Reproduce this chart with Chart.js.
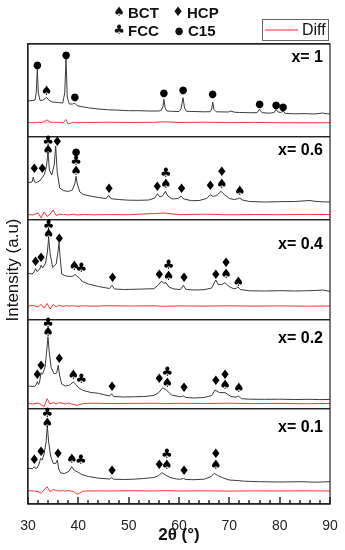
<!DOCTYPE html>
<html>
<head>
<meta charset="utf-8">
<title>XRD patterns</title>
<script src="https://cdn.jsdelivr.net/npm/chart.js@4.4.0/dist/chart.umd.min.js"></script>
<style>
  html, body { margin: 0; padding: 0; background: #fff; }
</style>
</head>
<body>
<canvas id="xrdChart" width="345" height="550"></canvas>
<script>
'use strict';

// ---- data (2theta in degrees, intensity in a.u. per panel) ----
let panelNames = ['x= 1', 'x= 0.6', 'x= 0.4', 'x= 0.2', 'x= 0.1'];
let panelMax = [93, 83, 100, 89, 95];      // intensity window of each panel
let labelLevel = [79, 69, 75, 70, 76];     // height of the "x= .." label in each panel
let xTicks = [30, 40, 50, 60, 70, 80, 90];
let minorStep = 2;

let phaseNames = ['BCT', 'HCP', 'FCC', 'C15'];
let phaseSyms = ['\u2660', '\u2666', '\u2663', '\u25CF'];

// x = 1
let theta1 = [30, 30.8, 31.4, 31.65, 31.85, 32.05, 32.4, 33.0, 33.4, 33.7,
  34.1, 34.8, 36.0, 36.9, 37.3, 37.55, 37.8, 38.2, 38.8, 39.3,
  39.7, 40.5, 42, 44, 46, 48, 50, 52, 54, 56,
  56.5, 56.8, 57.0, 57.25, 57.6, 58.5, 60.0, 60.4, 60.8, 61.1,
  61.5, 63, 65, 66.2, 66.5, 66.7, 66.95, 67.4, 69.8, 70.3,
  71, 72, 74, 75.5, 76.0, 76.5, 78, 78.9, 79.3, 79.7,
  80.2, 80.7, 81.2, 83, 85, 87, 88.5, 89, 90];
let counts1 = [36, 36.5, 37, 45, 67.7, 44, 36.5, 37, 38.5, 39.7,
  37, 35, 34.5, 34, 44, 78, 40, 33, 33, 33.7,
  31.5, 30.5, 29.2, 28, 27.2, 26.8, 26.3, 26.3, 26, 26,
  26.8, 30, 37.7, 29, 26, 25.7, 25.5, 28, 39.3, 29,
  25.7, 25.5, 25.2, 25.3, 28, 35, 27.5, 25.2, 25, 26,
  24.8, 24.5, 24.3, 24.3, 27.7, 24.3, 23.8, 24.5, 27.7, 25,
  24.5, 25.7, 23.5, 23.2, 23.4, 23, 24, 23.5, 23];

// x = 0.6
let theta2 = [30, 30.8, 31.05, 31.3, 31.7, 32.3, 32.9, 33.3, 33.7, 33.97,
  34.25, 34.7, 35.2, 35.5, 35.8, 36.3, 37, 38, 38.8, 39.3,
  39.54, 39.8, 40.3, 41, 42.5, 44, 45.5, 46.0, 46.5, 48,
  50, 52, 54, 55.2, 55.7, 56.2, 56.8, 57.3, 57.8, 58.7,
  59.8, 60.4, 61, 62.5, 64, 65.5, 66.2, 66.8, 67.6, 68.35,
  69, 70, 71, 71.6, 72.06, 72.6, 74, 77, 80, 83,
  85, 86, 87, 88.5, 90];
let counts2 = [37.3, 38, 43, 38, 37.5, 39, 43, 46, 55, 68,
  50, 45, 55, 74, 48, 32, 29.5, 28.5, 30, 36,
  43.7, 36, 28, 25.5, 23.8, 22.5, 21.5, 24.7, 21.3, 20.5,
  19.8, 19.7, 20, 22, 26.3, 23, 24.5, 28.7, 24, 21,
  21.5, 23.7, 21, 19.3, 19.5, 21.5, 25.3, 23.5, 25, 28.7,
  25.5, 21.5, 20.5, 21.2, 22, 20, 18.5, 18, 18.3, 18.5,
  19.2, 19.5, 18.7, 18.2, 18];

// x = 0.4
let theta3 = [30, 30.8, 31.2, 31.5, 31.8, 32.3, 32.6, 32.9, 33.5, 33.85,
  34.1, 34.4, 34.9, 35.6, 35.95, 36.16, 36.4, 36.7, 37.5, 38.5,
  39.0, 39.3, 39.7, 40.1, 40.8, 42, 44, 46.2, 46.7, 47.2,
  49, 51, 53, 55, 55.9, 56.56, 57.0, 57.4, 58, 59,
  60.3, 60.87, 61.4, 63, 65, 66.5, 67.3, 67.8, 68.5, 69.15,
  69.8, 70.8, 71.3, 71.7, 72.2, 74, 77, 80, 83, 85,
  87, 88.5, 89.2, 90];
let counts3 = [46.7, 46, 48, 51.3, 48.5, 50.5, 54.7, 52, 57, 68,
  82.3, 66, 52.5, 56, 68, 77.3, 62, 46, 44, 43.5,
  44, 45.7, 44, 42.5, 38.5, 36, 33.5, 31.5, 34.7, 31,
  30.5, 30.7, 31, 31.3, 35, 39, 36.5, 37.5, 33, 31,
  30.5, 34.7, 30.5, 30, 30.3, 32, 40, 35.5, 35.5, 37.3,
  34, 31.3, 31.5, 33, 30.5, 29.2, 29, 29.3, 29, 29.2,
  29.5, 30, 29.3, 28.7];

// x = 0.2
let theta4 = [30, 31.2, 31.6, 31.85, 32.1, 32.3, 32.6, 32.9, 33.4, 33.75,
  33.97, 34.2, 34.6, 35.2, 35.7, 36.0, 36.3, 36.7, 37.4, 38.3,
  39.0, 39.6, 40.1, 41, 42.5, 44, 46.2, 46.6, 47.0, 49,
  51, 53, 55, 56.0, 56.76, 57.6, 58.5, 60.3, 60.87, 61.4,
  63, 65, 66.5, 67.15, 68, 69.2, 70.3, 71.3, 71.8, 72.4,
  74, 77, 80, 83, 86, 88, 90];
let counts4 = [23, 22.5, 24, 27.3, 24.5, 27, 36.3, 35, 42, 60,
  72.3, 58, 41.5, 35, 36, 43.7, 33, 25, 23, 24,
  27, 24, 21, 18.5, 16.5, 15.7, 13, 15.3, 12.5, 12,
  12.2, 12.5, 13.5, 16.5, 21.3, 18.5, 14, 12.2, 13, 11.5,
  11, 11.5, 13.5, 19, 16.5, 16.3, 12.5, 11.8, 13, 10.3,
  9.8, 9.7, 9.8, 9.5, 9.7, 9.4, 9.6];

// x = 0.1
let theta5 = [30, 30.9, 31.26, 31.5, 31.8, 32.2, 32.5, 32.8, 33.2, 33.6,
  33.84, 34.1, 34.5, 35.0, 35.5, 35.83, 36.1, 36.5, 37.3, 38.2,
  38.68, 39.2, 39.8, 40.6, 42, 44, 46.2, 46.6, 47.0, 49,
  51, 53, 55, 56.0, 56.56, 57.2, 58.2, 59.5, 60.3, 60.87,
  61.4, 63, 65, 66.4, 67.0, 67.7, 68.8, 70, 71.5, 73,
  76, 80, 84, 87, 90];
let counts5 = [35.7, 35.3, 37.3, 35.7, 36, 40, 45.7, 44, 50, 62,
  78.3, 62, 48, 40.7, 40.5, 44, 35, 31, 30.5, 33,
  37.3, 33.5, 32.3, 29.7, 27.5, 25.8, 25, 26.3, 24.8, 24.5,
  24.8, 25.5, 26.5, 28.5, 31.3, 29.5, 26.5, 25, 24.8, 25.5,
  24.5, 24.3, 24.8, 27.5, 30.7, 28.5, 26, 24, 23.5, 22.8,
  22.3, 22, 22.3, 21.8, 22.3];

// difference curves (red), same 2theta grid for all panels
let diffTheta = [30, 31, 32, 32.6, 33.2, 33.8, 34.4, 35, 35.6, 36.2,
  37, 37.5, 38, 39, 39.8, 41, 43, 46, 50, 55,
  57, 60, 65, 70, 75, 80, 85, 90];
let diff1 = [14.5, 14.2, 14.8, 14.3, 15.5, 17, 15, 14.5, 14.8, 14.5,
  14.2, 17.5, 13, 14.8, 14.2, 14.6, 14.5, 14.8, 14.5, 14.7,
  15.2, 14.5, 14.8, 14.4, 14.6, 14.3, 14.2, 14.3];
let diff2 = [5.5, 5, 7, 2, 8, 3.5, 6, 10, 4.5, 6,
  5.3, 5.5, 5, 5.8, 5, 5.5, 5.2, 5.4, 5.3, 6.5,
  7, 5.3, 5.8, 5.2, 5.5, 5.3, 5.6, 5.4];
let diff3 = [14, 14.5, 13, 15.5, 12, 16.5, 11, 15.5, 13, 14.8,
  13.5, 14.5, 13.8, 14.3, 13.6, 14.2, 13.8, 14.3, 14, 14.2,
  13.7, 14.1, 13.9, 14.2, 13.9, 14.1, 13.8, 14];
let diff4 = [5.5, 5, 6, 4.5, 2.5, 10.3, 5, 6.5, 5, 6.5,
  5.5, 5, 6, 4.5, 3.7, 5.5, 5.8, 5.5, 5.6, 5.8,
  5.4, 5.7, 5.5, 5.8, 5.4, 5.6, 5.3, 5.5];
let diff5 = [13.2, 13, 12.5, 10.7, 14, 17.3, 12, 14.5, 13.5, 13,
  13.3, 12.8, 13.5, 12.6, 9.7, 12.8, 13.2, 13, 13.3, 13,
  13.4, 13, 13.2, 12.9, 13.1, 13, 13.2, 13];

// phase markers: position (2theta), height in the panel, symbol
let S = '\u2660', C = '\u2663', D = '\u2666', O = '\u25CF';
let mark1Theta = [31.85, 33.7, 37.55, 39.3, 57.0, 60.8, 66.7, 76.0, 79.3, 80.7];
let mark1Level = [72, 45.3, 81.3, 39.3, 43.7, 46.3, 42.3, 33, 32, 29.3];
let mark1Sym = [O, S, O, O, O, O, O, O, O, O];

let mark2Theta = [31.26, 32.85, 33.97, 33.97, 35.83, 39.54, 39.54, 39.54, 46.1, 55.7, 57.4, 57.4, 60.5, 66.2, 68.5, 68.5, 72.1];
let mark2Level = [50.3, 50.3, 69, 78, 77.3, 48, 58.7, 67.3, 30.7, 32.3, 35.7, 46.7, 30, 33, 35.7, 47.3, 28];
let mark2Sym = [D, D, S, C, D, S, C, O, D, D, S, C, D, D, S, D, S];

let mark3Theta = [31.5, 32.6, 34.1, 34.1, 36.2, 39.2, 40.6, 46.8, 56.1, 57.95, 57.95, 61.0, 67.3, 69.35, 69.35, 71.8];
let mark3Level = [57.3, 61.3, 85, 94.7, 80.7, 53.3, 51.3, 41.3, 44, 43, 54, 41.3, 44, 45.3, 56.7, 37.3];
let mark3Sym = [D, D, S, C, D, S, C, D, D, S, C, D, D, S, D, S];

let mark4Theta = [31.85, 32.6, 34.0, 34.0, 36.2, 39.0, 40.6, 46.7, 56.1, 57.7, 57.7, 61.0, 67.3, 69.15, 69.15, 71.9];
let mark4Level = [33, 42.3, 76.3, 85.7, 49, 33, 29.7, 21.3, 29, 25.3, 36.3, 20.3, 27, 23, 33.7, 20.3];
let mark4Sym = [D, D, S, C, D, S, C, D, D, S, C, D, D, S, D, S];

let mark5Theta = [31.26, 32.6, 33.84, 33.84, 36.0, 38.7, 40.5, 46.7, 56.1, 57.6, 57.6, 61.0, 67.3, 67.3];
let mark5Level = [43.3, 51.7, 80.7, 90.7, 49, 44, 43, 32.3, 38, 38, 49, 32.3, 38, 49.7];
let mark5Sym = [D, D, S, C, D, S, C, D, D, S, C, D, S, D];

// ---- build datasets ----
let thetaSets = [theta1, theta2, theta3, theta4, theta5];
let countSets = [counts1, counts2, counts3, counts4, counts5];
let diffSets = [diff1, diff2, diff3, diff4, diff5];
let markTheta = [mark1Theta, mark2Theta, mark3Theta, mark4Theta, mark5Theta];
let markLevel = [mark1Level, mark2Level, mark3Level, mark4Level, mark5Level];
let markSym = [mark1Sym, mark2Sym, mark3Sym, mark4Sym, mark5Sym];

let datasets = [];
for (let i = 0; i < thetaSets.length; i++) {
  datasets.push({
    label: panelNames[i],
    data: thetaSets[i].map((t, j) => ({ x: t, y: countSets[i][j] })),
    yAxisID: 'p' + (i + 1),
    borderColor: '#3a3a3a',
    borderWidth: 1,
    pointRadius: 0,
    tension: 0
  });
  datasets.push({
    label: 'Diff',
    data: diffTheta.map((t, j) => ({ x: t, y: diffSets[i][j] })),
    yAxisID: 'p' + (i + 1),
    borderColor: '#ff1c1c',
    borderWidth: 0.9,
    pointRadius: 0,
    tension: 0
  });
}

// one y axis per panel, stacked on top of each other
function panelAxis(i, withTitle) {
  return {
    type: 'linear',
    position: 'left',
    stack: 'xrd',
    stackWeight: panelMax[i],
    min: 0,
    max: panelMax[i],
    afterBuildTicks: s => { s.ticks = [{ value: s.min }, { value: s.max }]; },
    afterFit: s => { s.width = 28; },
    ticks: { display: false },
    grid: { color: '#222', lineWidth: 1.2, drawTicks: false },
    border: { display: true, color: '#222', width: 1.2 },
    title: {
      display: withTitle,
      text: 'Intensity (a.u)',
      color: '#111',
      font: { family: 'Liberation Sans', size: 17 },
      padding: { top: 3, bottom: 0 }
    }
  };
}

let scales = {
  x: {
    type: 'linear',
    min: 30,
    max: 90,
    afterBuildTicks: s => { s.ticks = xTicks.map(v => ({ value: v })); },
    afterFit: s => { s.height = 46; },
    grid: { display: false },
    border: { display: true, color: '#222', width: 1.2 },
    ticks: { color: '#222', padding: 6, font: { family: 'Liberation Sans', size: 14 } },
    title: {
      display: true,
      text: '2\u03B8 (\u00B0)',
      color: '#111',
      font: { family: 'Liberation Sans', size: 17, weight: 'bold' },
      padding: { top: 0, bottom: 4 }
    }
  }
};
// bottom panel first, top panel last
for (let i = 4; i >= 0; i--) {
  scales['p' + (i + 1)] = panelAxis(i, i === 2);
}

// phase symbols over the peaks, the x= labels, frame and inward ticks
let peakMarks = {
  id: 'peakMarks',
  afterDatasetsDraw(chart) {
    let ctx = chart.ctx;
    let xs = chart.scales.x;
    let a = chart.chartArea;
    ctx.save();
    ctx.fillStyle = '#000';
    ctx.textAlign = 'center';
    ctx.textBaseline = 'middle';
    for (let i = 0; i < markTheta.length; i++) {
      let ys = chart.scales['p' + (i + 1)];
      for (let j = 0; j < markTheta[i].length; j++) {
        let s = markSym[i][j];
        ctx.font = s === O ? '10px "DejaVu Sans"' : '13px "DejaVu Sans"';
        ctx.fillText(s, xs.getPixelForValue(markTheta[i][j]), ys.getPixelForValue(markLevel[i][j]));
      }
      ctx.font = 'bold 16px "Liberation Sans"';
      ctx.textAlign = 'right';
      ctx.fillText(panelNames[i], a.right - 7, ys.getPixelForValue(labelLevel[i]));
      ctx.textAlign = 'center';
    }

    // ticks pointing up into the bottom panel
    ctx.fillStyle = '#1a1a1a';
    for (let v = xs.min; v <= xs.max; v += minorStep) {
      let px = Math.round(xs.getPixelForValue(v));
      let len = v % 10 === 0 ? 7 : 4;
      ctx.fillRect(px - 0.7, a.bottom - len, 1.4, len);
    }
    ctx.strokeStyle = '#222';
    ctx.lineWidth = 1.2;
    ctx.strokeRect(a.left, a.top, a.right - a.left, a.bottom - a.top);
    ctx.restore();
  }
};

// legend above the plot: phase symbols and the Diff box
let header = {
  id: 'header',
  afterDraw(chart) {
    let ctx = chart.ctx;
    let spots = [[119, 13], [178, 13], [119, 31], [179, 31]];
    ctx.save();
    ctx.fillStyle = '#111';
    ctx.textBaseline = 'middle';
    for (let k = 0; k < phaseNames.length; k++) {
      ctx.textAlign = 'center';
      ctx.font = phaseSyms[k] === O ? '10px "DejaVu Sans"' : '13px "DejaVu Sans"';
      ctx.fillText(phaseSyms[k], spots[k][0], spots[k][1]);
      ctx.textAlign = 'left';
      ctx.font = 'bold 15px "Liberation Sans"';
      ctx.fillText(phaseNames[k], spots[k][0] + 9, spots[k][1] + 1);
    }
    ctx.strokeStyle = '#666';
    ctx.lineWidth = 1;
    ctx.strokeRect(262.5, 19.5, 66, 21);
    ctx.strokeStyle = '#ff6f6f';
    ctx.lineWidth = 1.5;
    ctx.beginPath();
    ctx.moveTo(265, 30);
    ctx.lineTo(298, 30);
    ctx.stroke();
    ctx.font = '16px "Liberation Sans"';
    ctx.fillText('Diff', 302, 31);
    ctx.restore();
  }
};

let chart = new Chart(document.getElementById('xrdChart'), {
  type: 'line',
  data: { datasets: datasets },
  options: {
    responsive: false,
    animation: false,
    devicePixelRatio: 1,
    events: [],
    layout: { padding: { top: 44, right: 15, left: 0, bottom: 0 } },
    plugins: { legend: { display: false }, tooltip: { enabled: false } },
    scales: scales
  },
  plugins: [peakMarks, header]
});
</script>
</body>
</html>
